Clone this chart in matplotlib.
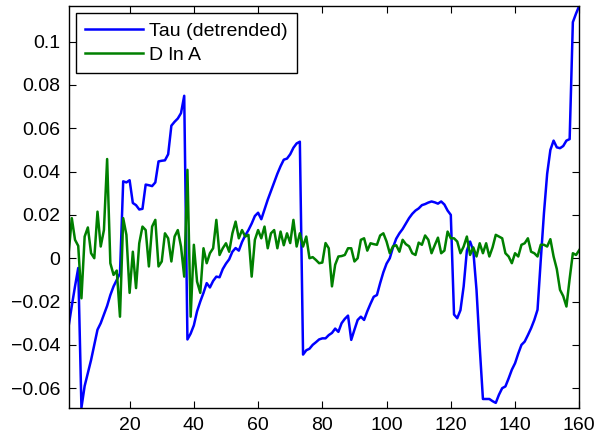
import numpy as np
import matplotlib
matplotlib.use('Agg')
import matplotlib.pyplot as plt
from matplotlib.ticker import FuncFormatter

plt.rcParams['font.family'] = ['Liberation Sans', 'DejaVu Sans']

# Tau (detrended), one value per period
tau = [
    -0.0315, -0.022, -0.013, -0.0045, -0.069, -0.059, -0.053, -0.047, -0.040, -0.033,
    -0.030, -0.026, -0.022, -0.017, -0.013, -0.010, -0.007, 0.0355, 0.035, 0.036,
    0.0255, 0.0245, 0.0225, 0.0228, 0.034, 0.0337, 0.0333, 0.035, 0.0447, 0.045,
    0.0452, 0.048, 0.0612, 0.063, 0.0645, 0.067, 0.075, -0.0375, -0.0348, -0.031,
    -0.0245, -0.020, -0.016, -0.0115, -0.0135, -0.0105, -0.0085, -0.0088, -0.005, -0.0025,
    -0.0005, 0.003, 0.0047, 0.0035, 0.0075, 0.0105, 0.013, 0.016, 0.0195, 0.021,
    0.018, 0.0225, 0.027, 0.031, 0.035, 0.039, 0.0425, 0.0455, 0.046, 0.048,
    0.051, 0.053, 0.0538, -0.0445, -0.0425, -0.0418, -0.040, -0.0388, -0.0375, -0.037,
    -0.037, -0.0355, -0.0345, -0.0325, -0.034, -0.030, -0.028, -0.0265, -0.0377, -0.033,
    -0.0285, -0.027, -0.0285, -0.0245, -0.021, -0.0178, -0.017, -0.0115, -0.0065, -0.0025,
    0.000, 0.005, 0.009, 0.0115, 0.0135, 0.016, 0.0185, 0.0205, 0.022, 0.023,
    0.0245, 0.025, 0.0257, 0.0262, 0.0258, 0.0252, 0.0262, 0.0248, 0.022, 0.020,
    -0.026, -0.0277, -0.024, -0.013, 0.0035, 0.0077, 0.0035, -0.0146, -0.041, -0.065,
    -0.065, -0.065, -0.066, -0.0668, -0.063, -0.060, -0.0592, -0.0555, -0.0515, -0.0485,
    -0.044, -0.040, -0.0385, -0.0355, -0.0323, -0.0285, -0.0238, -0.001, 0.0208, 0.039,
    0.050, 0.0543, 0.0512, 0.0508, 0.0518, 0.0543, 0.055, 0.109, 0.113, 0.1166,
]

# D ln A
dlna = [
    0.002, 0.0185, 0.0085, 0.0057, -0.0185, 0.010, 0.0142, 0.0023, 0.000, 0.0215,
    0.0054, 0.013, 0.0458, -0.0023, -0.0077, -0.0057, -0.027, 0.0185, 0.0108, -0.016,
    0.003, -0.0138, 0.0069, 0.0146, 0.013, -0.0038, 0.0146, 0.0177, -0.0038, -0.0015,
    0.0115, 0.0092, -0.0015, 0.010, 0.013, 0.0054, -0.0085, 0.0408, -0.027, 0.0062,
    -0.0108, -0.016, 0.0046, -0.0023, 0.0023, 0.0046, 0.0177, 0.0015, 0.0046, 0.0069,
    0.003, 0.0115, 0.0169, 0.0092, 0.013, 0.010, 0.0108, -0.0085, 0.0085, 0.013,
    0.0092, 0.0146, 0.0046, 0.0115, 0.013, 0.0046, 0.0123, 0.006, 0.0115, 0.007,
    0.0177, 0.0054, 0.0115, 0.0054, 0.010, 0.000, 0.0005, -0.0008, -0.0023, -0.002,
    0.007, 0.0046, -0.013, -0.003, 0.0008, 0.001, 0.0015, 0.0046, 0.0046, -0.0015,
    0.000, 0.0085, 0.0092, 0.0035, 0.0069, 0.0065, 0.0062, 0.0105, 0.0115, 0.0077,
    0.0023, 0.0055, 0.006, 0.003, 0.0085, 0.0065, 0.0055, 0.0023, 0.0015, 0.0072,
    0.0062, 0.0105, 0.0085, 0.0023, 0.006, 0.0095, 0.0023, 0.0035, 0.0123, 0.0092,
    0.0092, 0.0077, 0.0023, 0.0054, 0.010, 0.0015, 0.005, 0.0008, 0.0069, 0.0023,
    0.0069, 0.0008, 0.005, 0.0108, 0.010, 0.0092, 0.0023, 0.0008, -0.0023, 0.0023,
    0.0008, 0.0062, 0.0069, 0.0092, 0.003, 0.0023, 0.0008, 0.0062, 0.0062, 0.0054,
    0.0088, 0.0008, -0.005, -0.0146, -0.0175, -0.0223, -0.0095, 0.0023, 0.0015, 0.0038,
]

x = np.arange(1, len(tau) + 1)

fig = plt.figure(figsize=(5.98, 4.38), dpi=100)
ax = fig.add_axes([0.1147, 0.0678, 0.854, 0.9192])

ax.plot(x, tau, color=(0, 0, 1), lw=1.8, label='Tau (detrended)')
ax.plot(np.arange(1, len(dlna) + 1), dlna, color=(0, 0.5, 0), lw=1.8, label='D ln A')

ax.set_xlim(1, 160)
ax.set_ylim(-0.0693, 0.1166)
ax.set_xticks(range(20, 161, 20))
ax.set_yticks(np.arange(-0.06, 0.101, 0.02))
ax.yaxis.set_major_formatter(FuncFormatter(lambda v, p: ('%g' % round(v, 4)).replace('-', '\u2212')))

ax.tick_params(direction='in', top=True, right=True, length=5, width=0.8, labelsize=14, pad=6)
for s in ax.spines.values():
    s.set_linewidth(1.0)

leg = ax.legend(loc='upper left', fontsize=14, fancybox=False, edgecolor='black',
                framealpha=1, borderpad=0.45, labelspacing=0.35, handlelength=3.0,
                handletextpad=0.3, borderaxespad=0.4)
leg.get_frame().set_linewidth(1.0)

fig.savefig('out.png', dpi=100)
